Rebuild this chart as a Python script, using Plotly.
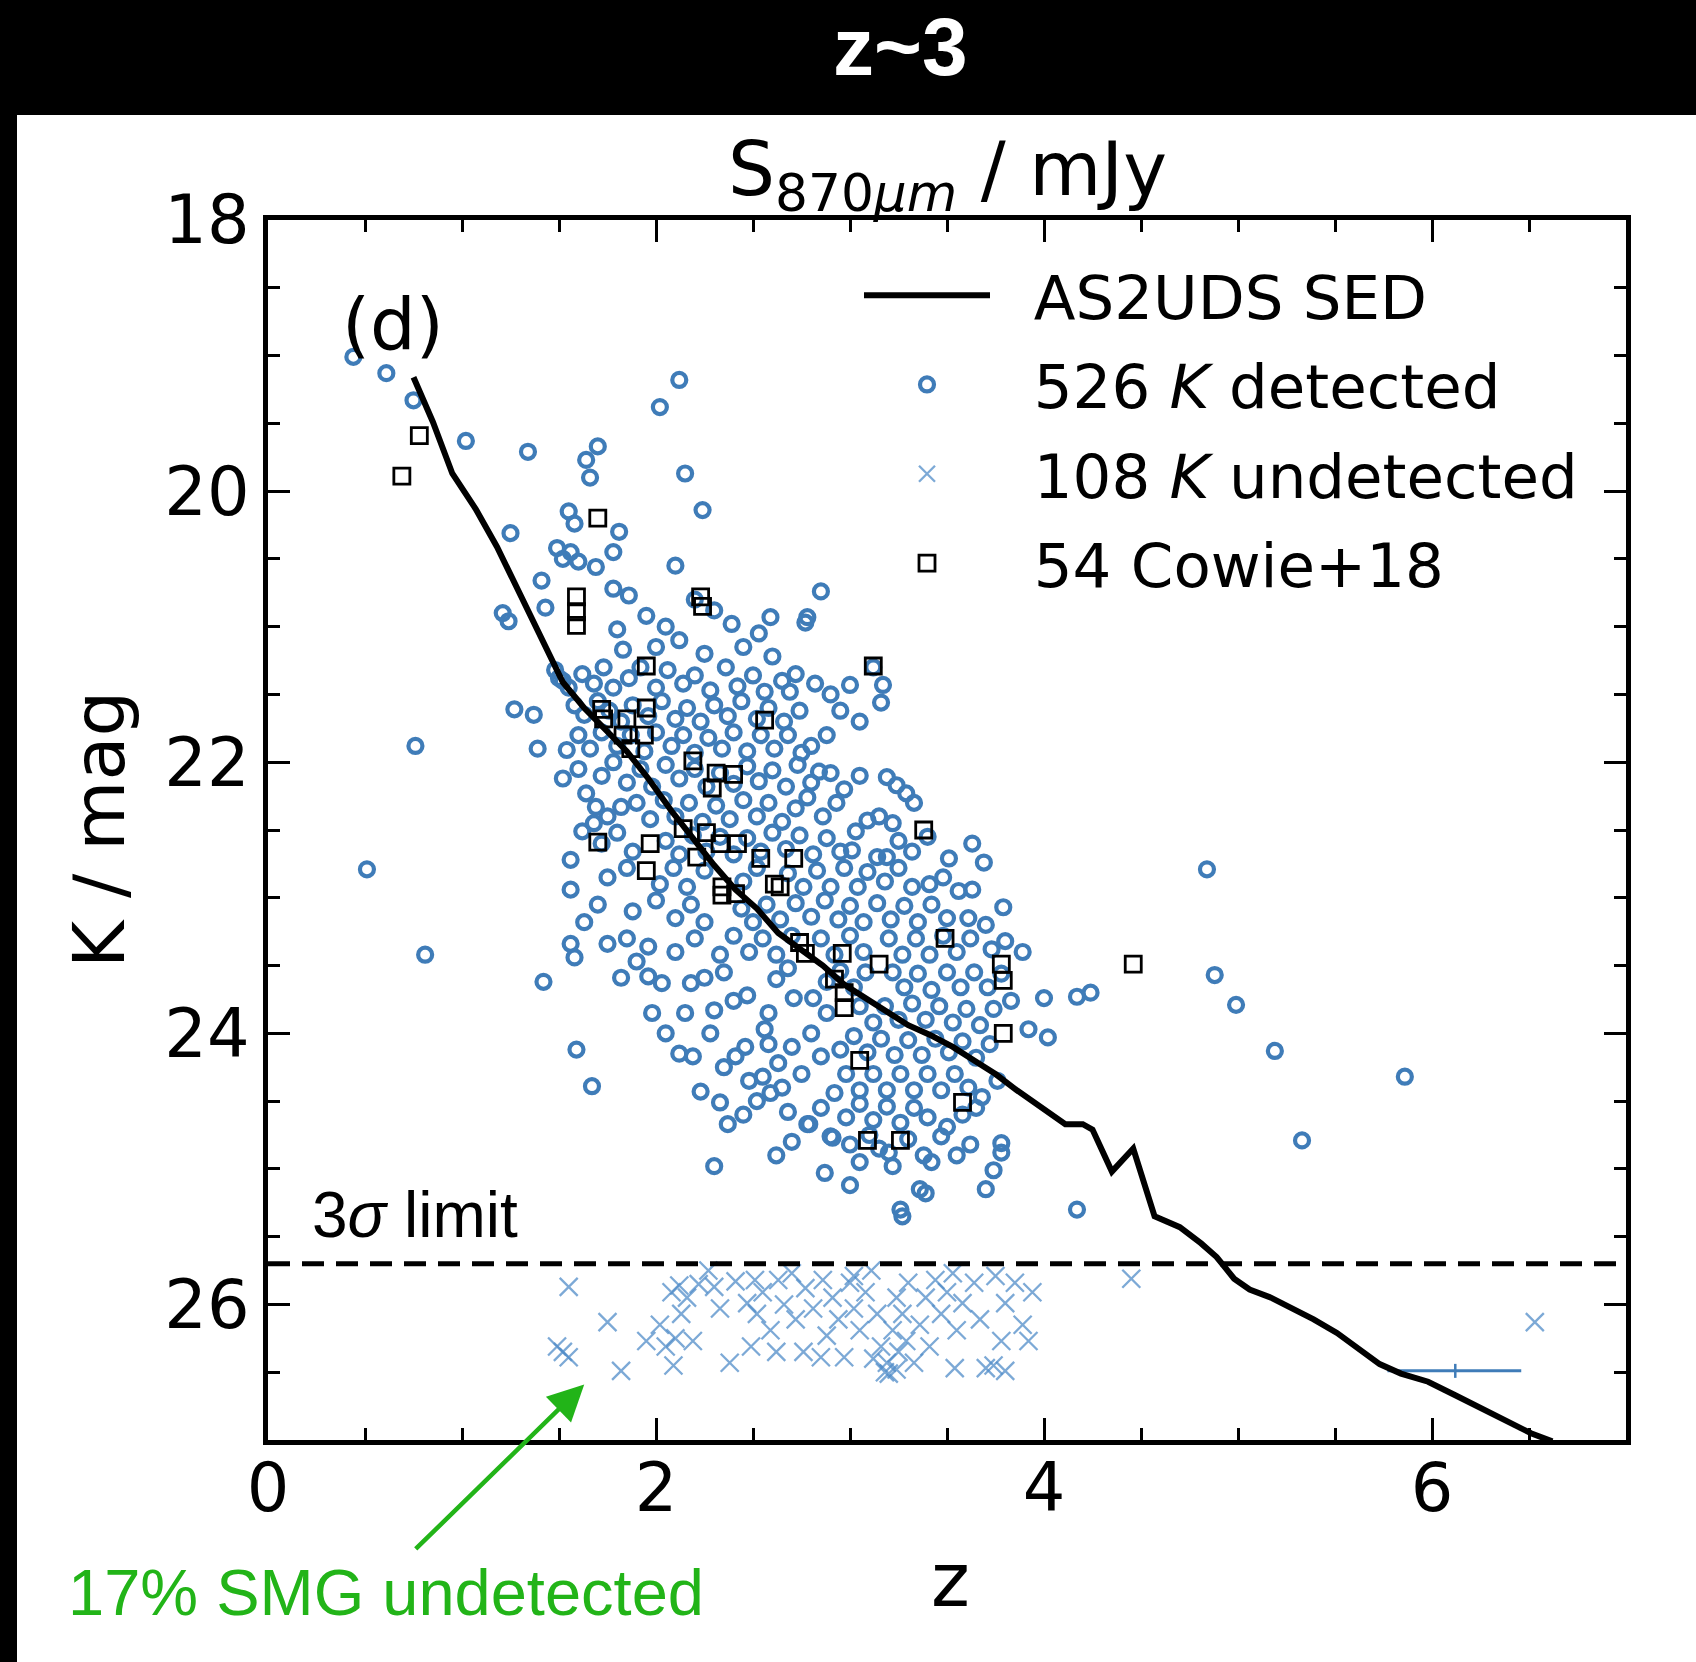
import plotly.graph_objects as go

# ---------------- data ----------------
det_points = [
    (0.44,19.01),(0.61,19.13),(0.75,19.33),(1.02,19.63),(1.34,19.71),(1.64,19.77),(1.70,19.67),(1.66,19.90),
    (2.02,19.38),(2.12,19.18),(2.15,19.87),(2.24,20.14),(1.81,20.30),(1.78,20.45),(1.69,20.56),(2.10,20.55),
    (2.85,20.74),(2.78,20.93),(2.39,20.98),(2.53,21.05),(2.59,20.93),(1.55,20.15),(1.58,20.24),(1.49,20.42),
    (1.52,20.50),(1.56,20.45),(1.60,20.52),(1.25,20.31),(1.41,20.66),(1.21,20.90),(1.43,20.86),(1.78,20.72),
    (1.86,20.77),(1.80,21.02),(1.83,21.17),(1.24,20.96),(2.20,20.80),(2.30,20.88),(1.95,20.92),(2.05,21.00),
    (0.76,21.88),(0.51,22.79),(0.81,23.42),(1.42,23.62),(4.84,22.79),(4.88,23.57),(4.99,23.79),(5.19,24.13),
    (5.86,24.32),(5.33,24.79),(4.17,25.30),(4.00,23.74),(4.17,23.73),(4.24,23.70),(3.92,23.97),(4.02,24.03),
    (3.89,23.40),(3.83,23.76),
    (3.00,21.43),(3.17,21.43),(3.16,21.56),(3.12,21.30),(2.80,21.88),(2.84,22.07),(3.19,22.11),(3.24,22.17),
    (3.29,22.23),(3.33,22.30),(3.09,22.43),(3.03,22.51),(3.01,22.65),(3.09,22.81),(3.14,22.70),(3.19,22.70),
    (3.41,22.90),(3.51,22.71),(3.63,22.60),(3.69,22.74),(3.63,22.94),(3.61,23.15),(3.79,23.07),(3.73,23.38),
    (3.68,24.47),(3.50,24.69),(3.47,24.76),(3.78,24.81),(2.90,24.76),(2.78,24.67),(2.72,21.35),(2.69,21.48),
    (2.60,21.22),(2.45,21.15),(2.25,21.20),(2.12,21.10),(2.00,21.15),(2.77,20.97),
    (1.27,21.61),(1.37,21.65),(1.39,21.90),(1.52,22.12),(1.54,21.91),(1.64,22.23),(1.62,22.51),(1.56,22.72),
    (1.56,22.94),(1.63,23.18),(1.56,23.34),(1.58,23.44),(1.75,23.34),(1.82,22.33),(1.69,22.33),(1.68,22.45),
    (1.82,23.59),(1.96,23.36),(1.90,23.47),(1.96,23.58),(2.03,23.63),(1.98,23.85),(2.15,23.85),(2.18,23.63),
    (2.25,23.59),(2.19,24.17),(2.23,24.43),(2.33,24.51),(2.37,24.67),(2.41,24.17),(2.30,23.83),(2.40,23.76),
    (2.47,23.72),(2.58,23.85),(2.56,23.97),(2.58,24.08),(2.63,24.22),(2.55,24.32),(2.71,23.74),(2.81,23.74),
    (2.80,24.00),(2.85,24.17),(2.92,24.44),(2.79,24.67),(2.91,24.77),(2.59,24.44),(1.59,24.12),(1.67,24.39),
    (1.48,21.32),(1.52,21.40),(1.55,21.45),(1.50,21.38),
    (2.30,24.98),(2.87,25.03),(3.26,25.30),(3.27,25.35),(3.36,25.15),(3.39,25.18),(3.70,25.15),(3.74,25.01),
    (3.78,24.88),(3.05,24.95),(3.15,24.85),(3.00,25.12),(3.22,24.98),(3.42,24.95),(3.55,24.90),
    (1.62,21.35),(1.68,21.42),(1.73,21.30),(1.78,21.45),(1.86,21.38),(1.92,21.30),(2.00,21.45),(2.06,21.32),
    (2.14,21.42),(2.20,21.36),(2.28,21.47),(2.36,21.30),(2.42,21.44),(2.50,21.36),(2.56,21.48),(2.65,21.40),
    (2.82,21.42),(2.90,21.50),
    (1.58,21.58),(1.63,21.65),(1.70,21.55),(1.76,21.62),(1.82,21.70),(1.88,21.58),(1.96,21.66),(2.03,21.55),
    (2.10,21.68),(2.16,21.60),(2.23,21.70),(2.30,21.58),(2.37,21.66),(2.44,21.55),(2.52,21.68),(2.58,21.60),
    (2.66,21.70),(2.74,21.62),(2.95,21.62),(3.05,21.70),
    (1.60,21.80),(1.66,21.90),(1.72,21.78),(1.80,21.88),(1.87,21.80),(1.94,21.92),(2.00,21.78),(2.08,21.88),
    (2.14,21.80),(2.20,21.93),(2.27,21.82),(2.34,21.90),(2.40,21.78),(2.47,21.92),(2.54,21.80),(2.61,21.90),
    (2.68,21.80),(2.75,21.93),(2.88,21.80),
    (1.60,22.05),(1.72,22.10),(1.78,22.00),(1.85,22.15),(1.92,22.05),(1.98,22.18),(2.05,22.02),(2.12,22.12),
    (2.20,22.05),(2.26,22.18),(2.33,22.08),(2.40,22.16),(2.47,22.03),(2.53,22.14),(2.60,22.06),(2.67,22.18),
    (2.73,22.02),(2.80,22.15),(2.90,22.08),(2.97,22.20),(3.05,22.10),
    (1.75,22.40),(1.90,22.30),(1.97,22.42),(2.04,22.28),(2.10,22.40),(2.17,22.30),(2.24,22.44),(2.31,22.32),
    (2.38,22.42),(2.45,22.28),(2.52,22.40),(2.58,22.30),(2.65,22.44),(2.72,22.34),(2.78,22.26),(2.86,22.40),
    (2.93,22.30),(3.15,22.40),(3.22,22.45),
    (1.72,22.60),(1.80,22.52),(1.88,22.66),(2.05,22.58),(2.12,22.68),(2.19,22.54),(2.26,22.66),(2.33,22.55),
    (2.40,22.68),(2.47,22.56),(2.54,22.66),(2.60,22.52),(2.67,22.64),(2.74,22.54),(2.81,22.68),(2.88,22.56),
    (2.95,22.66),(3.25,22.58),(3.32,22.66),(3.40,22.55),
    (1.75,22.85),(1.85,22.78),(2.02,22.90),(2.09,22.78),(2.16,22.92),(2.25,22.80),(2.45,22.88),(2.52,22.78),
    (2.68,22.82),(2.76,22.92),(2.83,22.80),(2.90,22.92),(2.97,22.78),(3.04,22.92),(3.18,22.88),(3.25,22.78),
    (3.32,22.92),(3.48,22.85),(3.56,22.95),
    (1.70,23.05),(1.88,23.10),(2.00,23.02),(2.10,23.15),(2.18,23.05),(2.25,23.18),(2.44,23.08),(2.50,23.18),
    (2.57,23.05),(2.64,23.16),(2.72,23.04),(2.80,23.14),(2.87,23.02),(2.94,23.16),(3.00,23.06),(3.07,23.18),
    (3.14,23.04),(3.21,23.16),(3.28,23.06),(3.35,23.18),(3.42,23.05),(3.50,23.15),(3.70,23.20),
    (1.85,23.30),(2.10,23.40),(2.20,23.30),(2.33,23.42),(2.40,23.28),(2.48,23.40),(2.55,23.30),(2.62,23.42),
    (2.70,23.28),(2.85,23.30),(2.92,23.42),(3.00,23.28),(3.07,23.40),(3.20,23.30),(3.27,23.42),(3.34,23.30),
    (3.41,23.42),(3.48,23.28),(3.55,23.40),(3.62,23.30),(3.80,23.32),
    (2.35,23.55),(2.62,23.60),(2.68,23.52),(2.88,23.62),(2.95,23.54),(3.02,23.66),(3.08,23.55),(3.22,23.55),
    (3.28,23.66),(3.35,23.56),(3.42,23.68),(3.50,23.55),(3.57,23.66),(3.64,23.55),(3.71,23.66),(3.78,23.56),
    (2.88,23.85),(3.05,23.80),(3.12,23.92),(3.18,23.80),(3.25,23.90),(3.32,23.78),(3.39,23.90),(3.46,23.80),
    (3.53,23.92),(3.60,23.82),(3.67,23.94),(3.74,23.82),
    (2.70,24.10),(2.95,24.12),(3.02,24.02),(3.09,24.14),(3.16,24.04),(3.23,24.16),(3.30,24.05),(3.37,24.16),
    (3.44,24.04),(3.51,24.14),(3.58,24.06),(3.65,24.18),(3.72,24.08),
    (2.65,24.40),(2.75,24.30),(2.98,24.30),(3.05,24.42),(3.12,24.30),(3.19,24.42),(3.26,24.30),(3.33,24.42),
    (3.40,24.30),(3.47,24.42),(3.54,24.30),(3.61,24.40),(3.76,24.35),
    (2.45,24.60),(2.85,24.55),(2.98,24.62),(3.05,24.52),(3.12,24.64),(3.19,24.54),(3.26,24.66),(3.33,24.55),
    (3.40,24.62),(3.58,24.60),(3.65,24.55),(2.68,24.58),
    (3.00,24.82),(3.10,24.75),(3.20,24.88),(3.30,24.78),(3.38,24.90),(3.62,24.82),(2.62,24.90),(2.70,24.80),
    (2.05,24.00),(2.12,24.15),(2.28,24.00),(2.35,24.25),(2.46,24.10),(2.52,24.50),(2.48,24.35),
]

undet_points = [
    (1.55,25.87),(1.49,26.31),(1.55,26.39),(1.52,26.35),(1.75,26.13),(1.82,26.49),(1.95,26.27),(2.05,26.31),
    (2.09,26.45),(2.08,25.91),(2.12,25.86),(2.16,25.95),(2.19,26.27),(2.27,25.75),(2.30,25.87),(2.33,26.03),
    (2.38,26.43),(2.41,25.83),(2.47,25.99),(2.52,26.07),(2.55,25.91),(2.59,26.19),(2.63,25.82),(2.66,26.00),
    (2.72,26.11),(2.76,26.35),(2.77,25.88),(2.81,26.03),(2.86,25.82),(2.88,26.23),(2.91,25.95),(2.94,26.11),
    (2.97,26.39),(3.00,25.84),(3.02,26.03),(3.05,26.19),(3.08,25.91),(3.11,25.75),(3.14,26.07),(3.16,26.31),
    (3.19,26.43),(3.20,26.51),(3.22,26.19),(3.24,25.95),(3.25,26.35),(3.27,26.07),(3.29,26.27),(3.30,25.84),
    (3.33,26.43),(3.36,26.15),(3.39,25.95),(3.41,26.31),(3.44,25.82),(3.47,26.07),(3.50,25.91),(3.54,26.47),
    (3.55,26.19),(3.58,25.99),(3.64,25.84),(3.67,26.11),(3.70,26.47),(3.74,26.45),(3.78,26.27),(3.80,26.49),
    (3.80,25.99),(3.85,25.84),(3.89,26.15),(3.92,26.27),(3.94,25.91),(2.02,26.15),(2.13,26.07),(2.49,26.31),
    (2.62,26.35),(2.85,26.39),(4.45,25.81),(6.53,26.13),(2.22,25.85),(2.51,25.82),(2.70,25.77),(3.02,25.79),
    (3.53,25.77),(3.75,25.79),(2.10,26.25),(3.18,26.50),(3.24,26.48),(3.12,26.40),
]

cowie_points = [
    (0.69,19.89),(0.78,19.59),(1.70,20.20),(1.59,20.78),(1.59,20.89),(1.59,20.99),(2.23,20.78),(1.95,21.29),
    (3.12,21.29),(1.95,21.60),(1.72,21.61),(1.85,21.68),(1.94,21.80),(1.87,21.90),(2.56,21.69),(2.19,21.99),
    (2.31,22.08),(2.40,22.09),(2.29,22.19),(1.70,22.59),(1.97,22.60),(1.95,22.80),(2.14,22.49),(2.21,22.70),
    (2.33,22.60),(2.42,22.60),(2.54,22.71),(2.71,22.71),(2.61,22.90),(2.34,22.98),(2.41,22.97),(3.38,22.50),
    (2.74,23.33),(2.77,23.41),(2.96,23.41),(2.92,23.60),(2.97,23.70),(2.97,23.81),(3.15,23.49),(3.49,23.30),
    (3.78,23.49),(3.79,23.61),(3.79,24.00),(4.46,23.49),(3.05,24.20),(3.58,24.51),(3.09,24.79),(3.26,24.79),
    (1.73,21.68),(1.83,21.80),(2.24,20.85),(2.34,22.92),(2.64,22.92),(2.26,22.52),
]

sed_z = [0.75,0.85,0.95,1.07,1.18,1.29,1.41,1.52,1.63,1.74,1.85,1.96,2.08,2.19,2.30,2.41,2.52,2.63,2.74,
         2.86,2.97,3.08,3.19,3.30,3.41,3.53,3.64,3.75,3.86,3.97,4.06,4.11,4.20,4.25,4.35,4.46,4.57,4.70,
         4.81,4.89,4.98,5.06,5.17,5.28,5.39,5.51,5.62,5.73,5.84,5.98,6.12,6.26,6.40,6.51,6.62]
sed_k = [19.16,19.49,19.87,20.13,20.41,20.73,21.09,21.41,21.60,21.76,21.92,22.12,22.36,22.56,22.76,22.94,
         23.08,23.26,23.38,23.50,23.64,23.74,23.84,23.94,24.01,24.10,24.20,24.30,24.42,24.53,24.63,24.67,
         24.67,24.71,25.02,24.85,25.35,25.43,25.55,25.65,25.81,25.89,25.95,26.03,26.11,26.21,26.33,26.44,
         26.51,26.57,26.67,26.77,26.87,26.95,27.01]

K_LIMIT = 25.7
err_z = [6.12]
err_k = [26.49]
err_plus = [0.34]
err_minus = [0.35]

legend_names = ["AS2UDS SED", "526 <i>K</i> detected", "108 <i>K</i> undetected", "54 Cowie+18"]

z_det = [p[0] for p in det_points]; k_det = [p[1] for p in det_points]
z_und = [p[0] for p in undet_points]; k_und = [p[1] for p in undet_points]
z_cow = [p[0] for p in cowie_points]; k_cow = [p[1] for p in cowie_points]

# ---------------- styling ----------------
W, H = 1696, 1662
L, R, T, B = 268, 70, 220, 222
PW, PH = W - L - R, H - T - B

def px(xpix):
    return (xpix - L) / PW

def py(ypix):
    return (H - B - ypix) / PH

C_DET = "#3f7cb8"
C_UND = "rgba(80,140,200,0.75)"
GREEN = "#22b418"
NBSP = "\u00a0"

fig = go.Figure()

fig.add_trace(go.Scatter(
    x=z_det, y=k_det, mode="markers", name=NBSP * 2 + legend_names[1],
    legendgroup="g2", legendrank=2,
    marker=dict(symbol="circle-open", size=14, color=C_DET, line=dict(width=4.2, color=C_DET)),
))
fig.add_trace(go.Scatter(
    x=z_und, y=k_und, mode="markers", name=NBSP * 2 + legend_names[2],
    legendgroup="g3", legendrank=3,
    marker=dict(symbol="x-thin-open", size=18, color=C_UND, line=dict(width=2.3, color=C_UND)),
))
fig.add_trace(go.Scatter(
    x=err_z, y=err_k, mode="markers", showlegend=False,
    marker=dict(symbol="line-ns-open", size=10, color=C_DET, line=dict(width=2.5, color=C_DET)),
    error_x=dict(type="data", symmetric=False, array=err_plus, arrayminus=err_minus,
                 color=C_DET, thickness=3, width=0),
))
fig.add_trace(go.Scatter(
    x=z_cow, y=k_cow, mode="markers", name=NBSP * 2 + legend_names[3],
    legendgroup="g4", legendrank=4,
    marker=dict(symbol="square-open", size=16, color="black", line=dict(width=2.8, color="black")),
))
fig.add_trace(go.Scatter(
    x=sed_z, y=sed_k, mode="lines", name=NBSP * 2 + legend_names[0],
    legendgroup="g1", legendrank=1,
    line=dict(color="black", width=6),
))

axis_common = dict(
    ticks="inside", ticklen=22, tickwidth=3, tickcolor="black",
    showline=True, linewidth=5, linecolor="black", mirror="allticks",
    showgrid=False, zeroline=False,
    tickfont=dict(family="DejaVu Sans", size=67, color="black"),
    minor=dict(dtick=0.5, tick0=0, ticks="inside", ticklen=12, tickwidth=2.5,
               tickcolor="black", showgrid=False),
)

fig.update_layout(
    width=W, height=H,
    margin=dict(l=L, r=R, t=T, b=B, pad=0, autoexpand=False),
    paper_bgcolor="white", plot_bgcolor="white",
    xaxis=dict(range=[0, 7], tick0=0, dtick=2, ticklabelstandoff=-14, **axis_common),
    yaxis=dict(range=[27, 18], tick0=0, dtick=2, ticklabelstandoff=0, **axis_common),
    showlegend=True,
    legend=dict(
        x=px(859), y=py(249), xanchor="left", yanchor="top",
        bgcolor="rgba(0,0,0,0)", borderwidth=0,
        font=dict(family="DejaVu Sans", size=61, color="black"),
        itemwidth=126, traceorder="grouped", tracegroupgap=7,
    ),
    shapes=[
        dict(type="rect", xref="paper", yref="paper", x0=-0.3, x1=1.3, y0=py(115), y1=1.4,
             fillcolor="black", line=dict(width=0), layer="below"),
        dict(type="rect", xref="paper", yref="paper", x0=-0.3, x1=px(17), y0=-0.4, y1=1.4,
             fillcolor="black", line=dict(width=0), layer="below"),
        dict(type="line", xref="x", yref="y", x0=0, x1=7, y0=K_LIMIT, y1=K_LIMIT,
             line=dict(color="black", width=5, dash="22px,12px")),
    ],
    annotations=[
        dict(text="<b>z~3</b>", xref="paper", yref="paper", x=px(900), y=py(47),
             xanchor="center", yanchor="middle", showarrow=False,
             font=dict(family="Liberation Sans", size=82, color="white")),
        dict(text="S<sub>870<i>μm</i></sub> / mJy", xref="paper", yref="paper", x=0.5, y=py(174),
             xanchor="center", yanchor="middle", showarrow=False,
             font=dict(family="DejaVu Sans", size=74, color="black")),
        dict(text="z", xref="paper", yref="paper", x=px(950), y=py(1580),
             xanchor="center", yanchor="middle", showarrow=False,
             font=dict(family="DejaVu Sans", size=74, color="black")),
        dict(text="K / mag", xref="paper", yref="paper", x=px(99), y=py(830), textangle=-90,
             xanchor="center", yanchor="middle", showarrow=False,
             font=dict(family="DejaVu Sans", size=72, color="black")),
        dict(text="(d)", xref="paper", yref="paper", x=px(393), y=py(324),
             xanchor="center", yanchor="middle", showarrow=False,
             font=dict(family="DejaVu Sans", size=72, color="black")),
        dict(text="3<i>σ</i> limit", xref="paper", yref="paper", x=px(310), y=py(1215),
             xanchor="left", yanchor="middle", showarrow=False,
             font=dict(family="Liberation Sans", size=64, color="black")),
        dict(text="17% SMG undetected", xref="paper", yref="paper", x=px(66), y=py(1592),
             xanchor="left", yanchor="middle", showarrow=False,
             font=dict(family="Liberation Sans", size=65, color=GREEN)),
        dict(text="", xref="x", yref="y", x=1.63, y=26.59, ax=-170, ay=166,
             showarrow=True, arrowhead=2, arrowsize=1.6, arrowwidth=4.5, arrowcolor=GREEN,
             standoff=0),
    ],
)

fig.write_html("out.html")
